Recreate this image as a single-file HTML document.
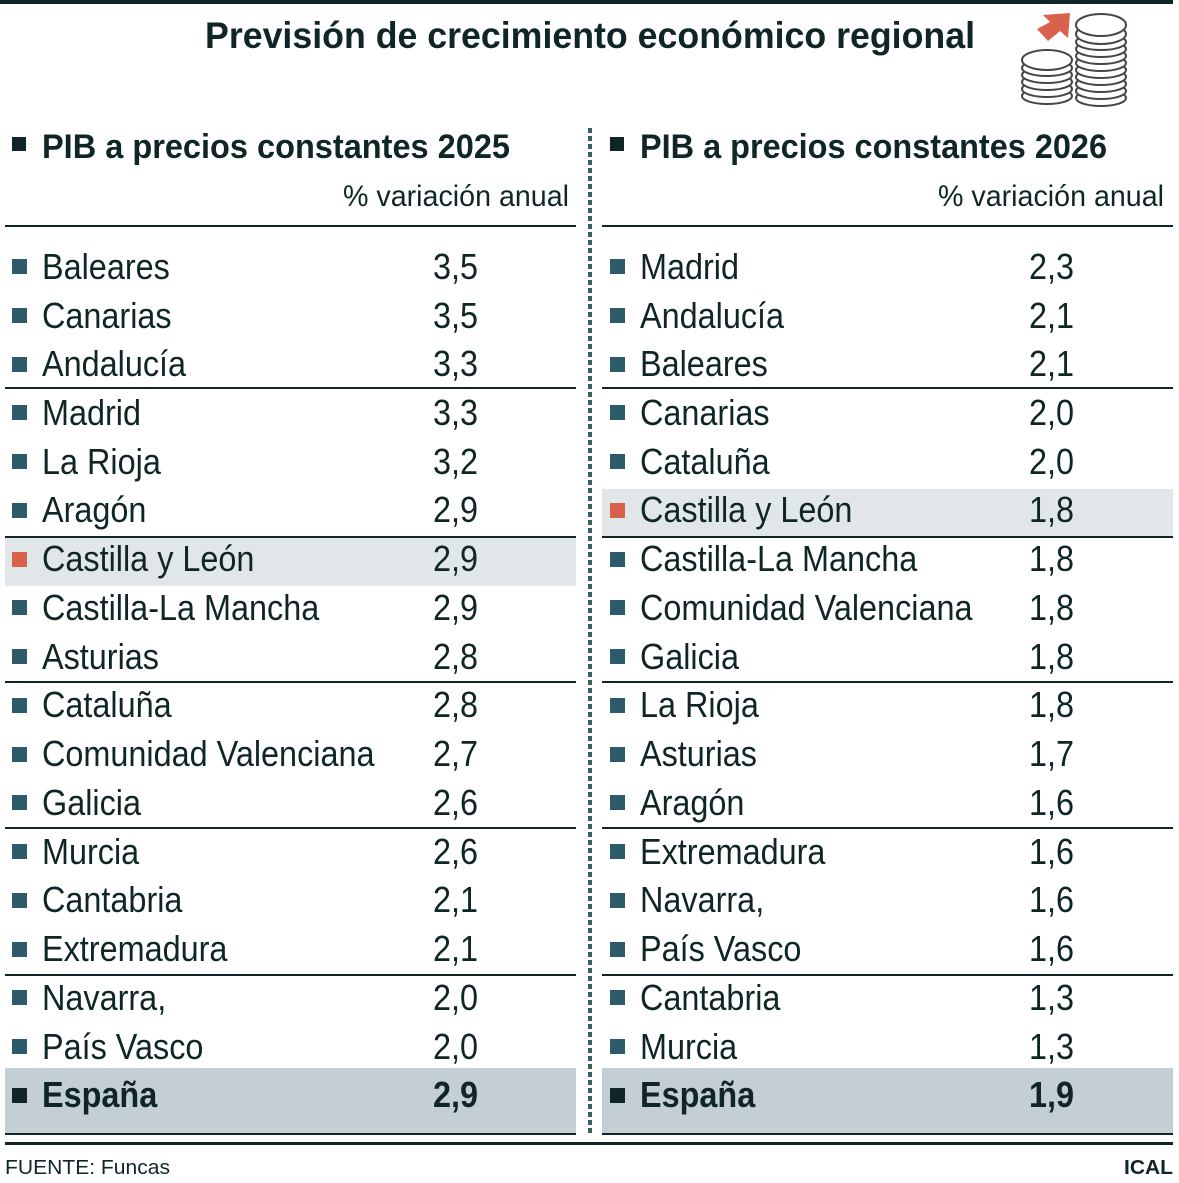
<!DOCTYPE html>
<html><head><meta charset="utf-8"><style>
html,body{margin:0;padding:0;background:#fff;}
svg{display:block;}
text{font-family:"Liberation Sans",Arial,sans-serif;fill:#102626;}
.r{font-size:36px;}
.b{font-weight:bold;}
</style></head><body>
<svg width="1179" height="1183" viewBox="0 0 1179 1183" xmlns="http://www.w3.org/2000/svg">
<rect x="0" y="0" width="1173" height="4" fill="#0f2626"/>
<text x="205" y="48" font-size="37" class="b" textLength="770" lengthAdjust="spacingAndGlyphs">Previsión de crecimiento económico regional</text>
<g stroke="#4a4442" stroke-width="2" fill="#fff">
<ellipse cx="1047" cy="96" rx="25" ry="8"/>
<ellipse cx="1047" cy="89" rx="25" ry="8"/>
<ellipse cx="1047" cy="82" rx="25" ry="8"/>
<ellipse cx="1047" cy="75" rx="25" ry="8"/>
<ellipse cx="1047" cy="68" rx="25" ry="8"/>
<ellipse cx="1047" cy="60" rx="25" ry="10"/>
<ellipse cx="1101" cy="98" rx="25" ry="8"/>
<ellipse cx="1101" cy="91" rx="25" ry="8"/>
<ellipse cx="1101" cy="84" rx="25" ry="8"/>
<ellipse cx="1101" cy="77" rx="25" ry="8"/>
<ellipse cx="1101" cy="70" rx="25" ry="8"/>
<ellipse cx="1101" cy="63" rx="25" ry="8"/>
<ellipse cx="1101" cy="56" rx="25" ry="8"/>
<ellipse cx="1101" cy="49" rx="25" ry="8"/>
<ellipse cx="1101" cy="42" rx="25" ry="8"/>
<ellipse cx="1101" cy="34" rx="25" ry="10"/>
<ellipse cx="1101" cy="25" rx="25" ry="11"/>
</g>
<polygon points="1037,29 1050,22 1043,15 1070,13 1068,38 1060,31 1048,41" fill="#d9624c"/>

<line x1="590" y1="128" x2="590" y2="1134" stroke="#3d5f6c" stroke-width="4" stroke-dasharray="5,3"/>

<rect x="5" y="538" width="571" height="48" fill="#e1e6e8"/>
<rect x="602" y="489" width="571" height="48" fill="#e1e6e8"/>
<rect x="5" y="1068" width="571" height="66" fill="#c4cfd5"/>
<rect x="602" y="1068" width="571" height="66" fill="#c4cfd5"/>

<rect x="12" y="137" width="14" height="14" fill="#102626"/>
<text x="42" y="158" font-size="34" class="b" textLength="468" lengthAdjust="spacingAndGlyphs">PIB a precios constantes 2025</text>
<text x="343" y="206" font-size="30" textLength="226" lengthAdjust="spacingAndGlyphs">% variación anual</text>
<rect x="610" y="137" width="14" height="14" fill="#102626"/>
<text x="640" y="158" font-size="34" class="b" textLength="467" lengthAdjust="spacingAndGlyphs">PIB a precios constantes 2026</text>
<text x="938" y="206" font-size="30" textLength="226" lengthAdjust="spacingAndGlyphs">% variación anual</text>

<g stroke="#102626" stroke-width="2">
<line x1="5" y1="226" x2="576" y2="226"/><line x1="602" y1="226" x2="1173" y2="226"/>
<line x1="5" y1="388" x2="576" y2="388"/><line x1="602" y1="388" x2="1173" y2="388"/>
<line x1="5" y1="537" x2="576" y2="537"/><line x1="602" y1="537" x2="1173" y2="537"/>
<line x1="5" y1="682" x2="576" y2="682"/><line x1="602" y1="682" x2="1173" y2="682"/>
<line x1="5" y1="828" x2="576" y2="828"/><line x1="602" y1="828" x2="1173" y2="828"/>
<line x1="5" y1="975" x2="576" y2="975"/><line x1="602" y1="975" x2="1173" y2="975"/>
<line x1="5" y1="1134" x2="576" y2="1134"/><line x1="602" y1="1134" x2="1173" y2="1134"/>
</g>
<rect x="5" y="1142" width="1168" height="3" fill="#0f2626"/>

<g fill="#2d5b6a">
<rect x="12" y="259" width="15" height="15"/><rect x="12" y="308" width="15" height="15"/><rect x="12" y="357" width="15" height="15"/>
<rect x="12" y="405" width="15" height="15"/><rect x="12" y="454" width="15" height="15"/><rect x="12" y="503" width="15" height="15"/>
<rect x="12" y="600" width="15" height="15"/><rect x="12" y="649" width="15" height="15"/>
<rect x="12" y="698" width="15" height="15"/><rect x="12" y="747" width="15" height="15"/><rect x="12" y="795" width="15" height="15"/>
<rect x="12" y="844" width="15" height="15"/><rect x="12" y="893" width="15" height="15"/><rect x="12" y="942" width="15" height="15"/>
<rect x="12" y="990" width="15" height="15"/><rect x="12" y="1039" width="15" height="15"/>
<rect x="610" y="259" width="15" height="15"/><rect x="610" y="308" width="15" height="15"/><rect x="610" y="357" width="15" height="15"/>
<rect x="610" y="405" width="15" height="15"/><rect x="610" y="454" width="15" height="15"/>
<rect x="610" y="552" width="15" height="15"/><rect x="610" y="600" width="15" height="15"/><rect x="610" y="649" width="15" height="15"/>
<rect x="610" y="698" width="15" height="15"/><rect x="610" y="747" width="15" height="15"/><rect x="610" y="795" width="15" height="15"/>
<rect x="610" y="844" width="15" height="15"/><rect x="610" y="893" width="15" height="15"/><rect x="610" y="942" width="15" height="15"/>
<rect x="610" y="990" width="15" height="15"/><rect x="610" y="1039" width="15" height="15"/>
</g>
<rect x="12" y="552" width="15" height="15" fill="#d9624c"/>
<rect x="610" y="503" width="15" height="15" fill="#d9624c"/>
<rect x="12" y="1088" width="15" height="15" fill="#102626"/>
<rect x="610" y="1088" width="15" height="15" fill="#102626"/>

<g class="r" font-size="36" transform="translate(0,-1)">
<g transform="translate(42,0) scale(0.9,1)">
<text x="0" y="280">Baleares</text><text x="0" y="329">Canarias</text><text x="0" y="377">Andalucía</text>
<text x="0" y="426">Madrid</text><text x="0" y="475">La Rioja</text><text x="0" y="523">Aragón</text>
<text x="0" y="572">Castilla y León</text><text x="0" y="621">Castilla-La Mancha</text><text x="0" y="670">Asturias</text>
<text x="0" y="718">Cataluña</text><text x="0" y="767">Comunidad Valenciana</text><text x="0" y="816">Galicia</text>
<text x="0" y="865">Murcia</text><text x="0" y="913">Cantabria</text><text x="0" y="962">Extremadura</text>
<text x="0" y="1011">Navarra,</text><text x="0" y="1060">País Vasco</text>
<text x="0" y="1108" font-weight="bold">España</text>
</g>
<g transform="translate(433,0) scale(0.9,1)">
<text x="0" y="280">3,5</text><text x="0" y="329">3,5</text><text x="0" y="377">3,3</text>
<text x="0" y="426">3,3</text><text x="0" y="475">3,2</text><text x="0" y="523">2,9</text>
<text x="0" y="572">2,9</text><text x="0" y="621">2,9</text><text x="0" y="670">2,8</text>
<text x="0" y="718">2,8</text><text x="0" y="767">2,7</text><text x="0" y="816">2,6</text>
<text x="0" y="865">2,6</text><text x="0" y="913">2,1</text><text x="0" y="962">2,1</text>
<text x="0" y="1011">2,0</text><text x="0" y="1060">2,0</text>
<text x="0" y="1108" font-weight="bold">2,9</text>
</g>
<g transform="translate(640,0) scale(0.9,1)">
<text x="0" y="280">Madrid</text><text x="0" y="329">Andalucía</text><text x="0" y="377">Baleares</text>
<text x="0" y="426">Canarias</text><text x="0" y="475">Cataluña</text><text x="0" y="523">Castilla y León</text>
<text x="0" y="572">Castilla-La Mancha</text><text x="0" y="621">Comunidad Valenciana</text><text x="0" y="670">Galicia</text>
<text x="0" y="718">La Rioja</text><text x="0" y="767">Asturias</text><text x="0" y="816">Aragón</text>
<text x="0" y="865">Extremadura</text><text x="0" y="913">Navarra,</text><text x="0" y="962">País Vasco</text>
<text x="0" y="1011">Cantabria</text><text x="0" y="1060">Murcia</text>
<text x="0" y="1108" font-weight="bold">España</text>
</g>
<g transform="translate(1029,0) scale(0.9,1)">
<text x="0" y="280">2,3</text><text x="0" y="329">2,1</text><text x="0" y="377">2,1</text>
<text x="0" y="426">2,0</text><text x="0" y="475">2,0</text><text x="0" y="523">1,8</text>
<text x="0" y="572">1,8</text><text x="0" y="621">1,8</text><text x="0" y="670">1,8</text>
<text x="0" y="718">1,8</text><text x="0" y="767">1,7</text><text x="0" y="816">1,6</text>
<text x="0" y="865">1,6</text><text x="0" y="913">1,6</text><text x="0" y="962">1,6</text>
<text x="0" y="1011">1,3</text><text x="0" y="1060">1,3</text>
<text x="0" y="1108" font-weight="bold">1,9</text>
</g>
</g>

<text x="5" y="1174" font-size="20" textLength="165" lengthAdjust="spacingAndGlyphs">FUENTE: Funcas</text>
<text x="1124" y="1174" font-size="20" class="b" textLength="49" lengthAdjust="spacingAndGlyphs">ICAL</text>
</svg>
</body></html>
